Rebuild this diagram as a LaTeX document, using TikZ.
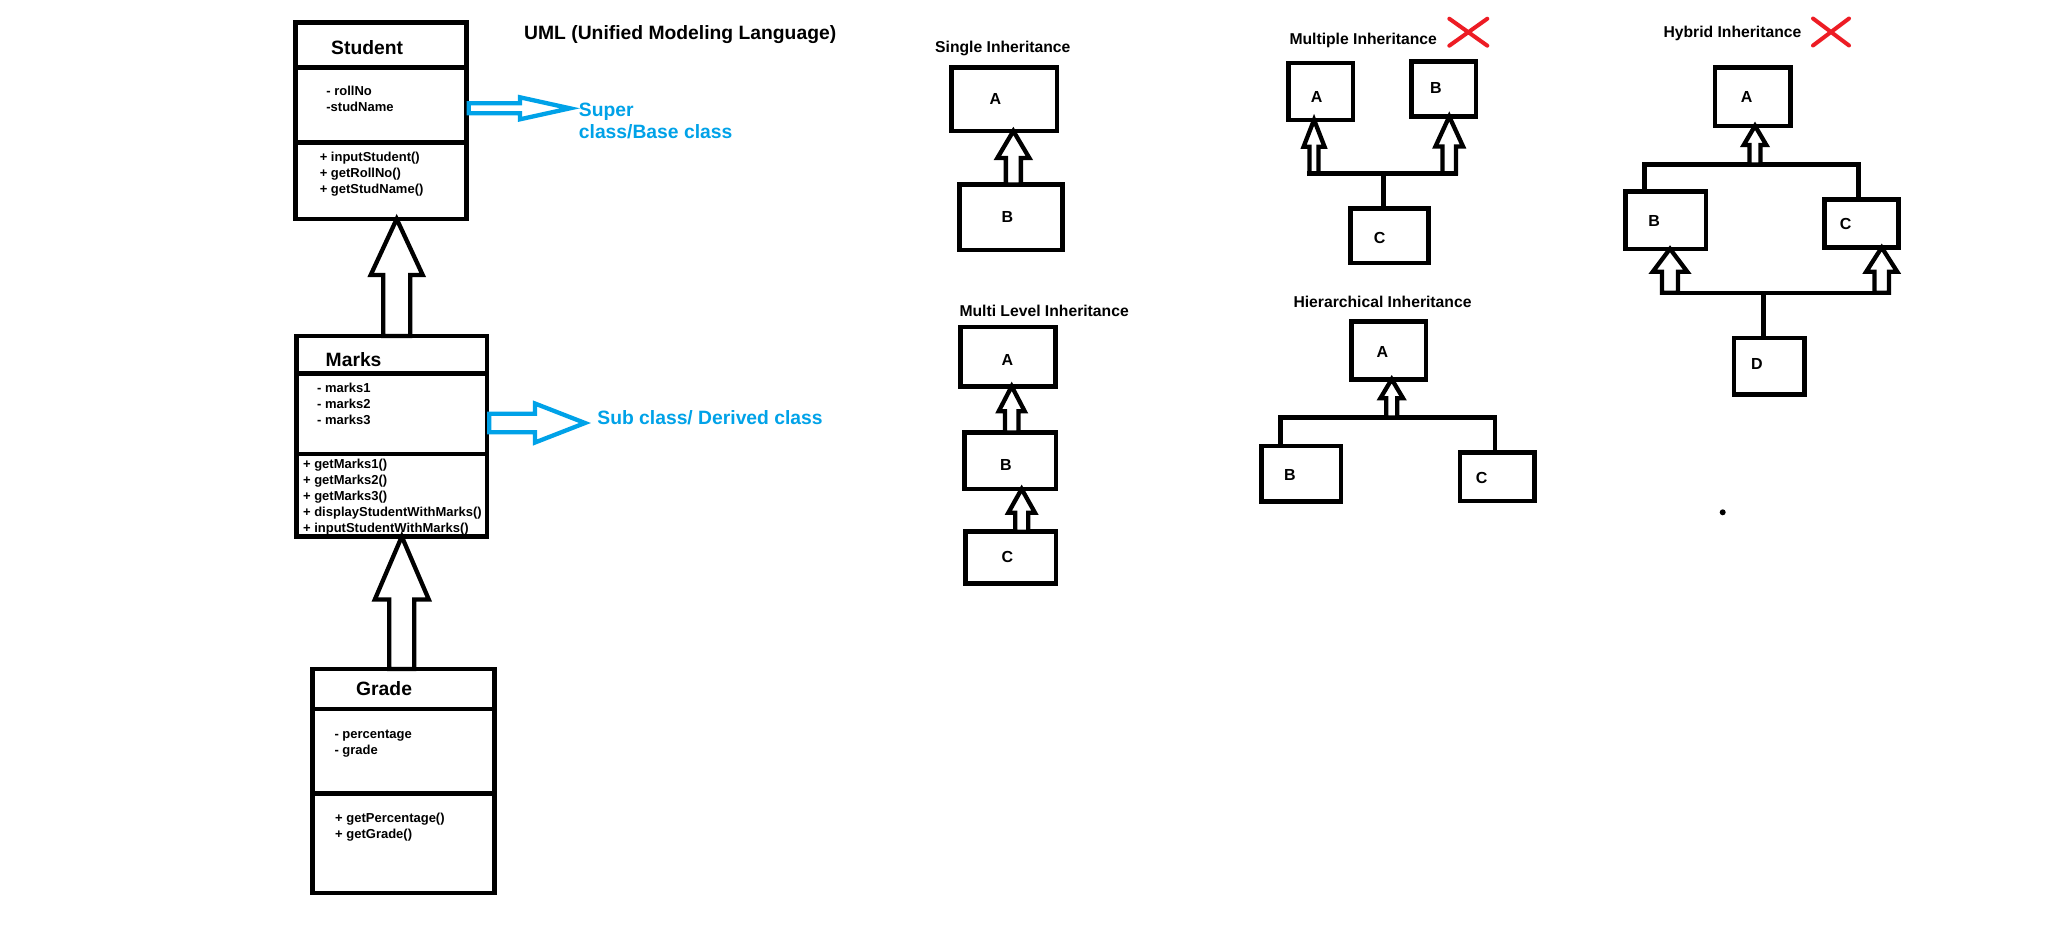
\documentclass[tikz,border=0pt]{standalone}
\usepackage{fontspec}
\setmainfont{Liberation Sans}
\usepackage{xcolor}
\usepackage{tikz}
\usetikzlibrary{positioning,calc,fit,shapes.misc}

\definecolor{paintblue}{RGB}{0,162,232}
\definecolor{paintred}{RGB}{237,28,36}

% hollow arrow up: tip, foot, head length, head half width, shaft half width
\newcommand{\inhup}[5]{%
  \draw[hollow] (#1) -- ++(#4,#3) -- ++({#5-#4},0) -- ($(#1 |- #2)+(#5,0)$)
    -- ($(#1 |- #2)+(-#5,0)$) -- ($(#1)+(-#5,#3)$) -- ++({#5-#4},0) -- cycle;}
% hollow arrow right: start, tip, head length, head half width, shaft half width
\newcommand{\inhright}[5]{%
  \draw[callout] (#2) -- ++(-#3,-#4) -- ++(0,{#4-#5}) -- ($(#1 |- #2)+(0,-#5)$)
    -- ($(#1 |- #2)+(0,#5)$) -- ($(#2)+(-#3,#5)$) -- ++(0,{#4-#5}) -- cycle;}

\begin{document}
\begin{tikzpicture}[
  x=1pt, y=-1pt,
  cls/.style={draw, line width=4.6pt, outer sep=0pt, inner sep=0pt, minimum width=#1},
  box/.style={draw, line width=4.6pt, outer sep=0pt, inner sep=0pt},
  hollow/.style={draw, fill=white, line width=4.3pt, line join=miter},
  callout/.style={draw=paintblue, line width=4.3pt, line join=miter},
  conn/.style={line width=4.6pt},
  ttl/.style={font=\fontsize{19.3}{22.3}\selectfont\bfseries, inner sep=0pt, anchor=west, align=left},
  mem/.style={font=\fontsize{13}{16}\selectfont\bfseries, inner sep=0pt, anchor=west, align=left},
  hdr/.style={font=\fontsize{15.7}{19}\selectfont\bfseries, inner sep=0pt, anchor=west, yshift=-2pt},
  ltr/.style={font=\fontsize{16}{19}\selectfont\bfseries, inner sep=0pt},
  xmark/.style={cross out, draw=paintred, line width=4pt, line cap=round, inner sep=0pt, outer sep=0pt}
]
\path[use as bounding box, fill=white] (0,0) rectangle (2048,930);

% uml classes
\node[cls=171pt, minimum height=45pt, anchor=north west] (stuN) at (295.4,22.5) {};
\node[cls=171pt, minimum height=75pt, below=0pt of stuN] (stuA) {};
\node[cls=171pt, minimum height=76.5pt, below=0pt of stuA] (stuM) {};
\node[ttl] (stuT) at (331,47.7) {Student};
\node[mem] (stuAt) at (326.2,98.7) {- rollNo\\-studName};
\node[mem] (stuMt) at (319.6,174.3) {+ inputStudent()\\+ getRollNo()\\+ getStudName()};

\node[cls=190.4pt, minimum height=37.5pt, anchor=north west] (marN) at (296.6,336) {};
\node[cls=190.4pt, minimum height=80.5pt, below=0pt of marN] (marA) {};
\node[cls=190.4pt, minimum height=82.5pt, below=0pt of marA] (marM) {};
\node[ttl] (marT) at (325.5,359.3) {Marks};
\node[mem] (marAt) at (317,403.4) {- marks1\\- marks2\\- marks3};
\node[mem] (marMt) at (302.9,497) {+ getMarks1()\\+ getMarks2()\\+ getMarks3()\\+ displayStudentWithMarks()\\+ inputStudentWithMarks()};

\node[cls=182pt, minimum height=40pt, anchor=north west] (graN) at (312.5,669) {};
\node[cls=182pt, minimum height=84.5pt, below=0pt of graN] (graA) {};
\node[cls=182pt, minimum height=99.5pt, below=0pt of graA] (graM) {};
\node[ttl] (graT) at (356,688.3) {Grade};
\node[mem] (graAt) at (334.3,743.7) {- percentage\\- grade};
\node[mem] (graMt) at (335,827.2) {+ getPercentage()\\+ getGrade()};

\coordinate (uT1) at ([xshift=15.8pt]stuM.south);
\inhup{uT1}{marN.north}{56}{26}{13.5}
\coordinate (uT2) at ([xshift=10pt]marM.south);
\inhup{uT2}{graN.north}{63}{27}{12.5}

% labels
\node[ttl] (uml) at (524,34.5) {UML (Unified Modeling Language)};
\node[ttl, text=paintblue] (sup) at (578.7,121.2) {Super\\class/Base class};
\node[ttl, text=paintblue] (sub) at (597.2,417.3) {Sub class/ Derived class};
\coordinate (supS) at ([xshift=2.3pt]stuA.east);
\coordinate (supTip) at (570,108.3);
\inhright{supS}{supTip}{50}{11}{5}
\coordinate (subS) at ([xshift=2.3pt]marA.east);
\coordinate (subTip) at (585,423);
\inhright{subS}{subTip}{50}{19.5}{9.3}

% single inheritance
\node[hdr] (sH) at (935,46.7) {Single Inheritance};
\node[box, fit={(951.7,67.5) (1057,131)}] (sA) {};
\node[box, fit={(959.7,184.5) (1062.5,250)}] (sB) {};
\node[ltr] (sAl) at (995.5,99.3) {A};
\node[ltr] (sBl) at (1007.5,216.7) {B};
\coordinate (sT) at ([xshift=9pt]sA.south);
\inhup{sT}{sB.north}{27}{16}{7.5}

% multi level inheritance
\node[hdr] (mH) at (959.3,309.3) {Multi Level Inheritance};
\node[box, fit={(960.5,327) (1055.5,386.3)}] (mA) {};
\node[box, fit={(964.7,432.5) (1056,489)}] (mB) {};
\node[box, fit={(965.5,531.7) (1056,583.3)}] (mC) {};
\node[ltr] (mAl) at (1007.3,360) {A};
\node[ltr] (mBl) at (1006,465) {B};
\node[ltr] (mCl) at (1007.3,556.7) {C};
\coordinate (mT1) at ([xshift=3.7pt]mA.south);
\inhup{mT1}{mB.north}{25}{13}{6.7}
\coordinate (mT2) at ([xshift=11.3pt]mB.south);
\inhup{mT2}{mC.north}{23.7}{13.3}{6.5}

% multiple inheritance
\node[hdr] (muH) at (1289.3,38.3) {Multiple Inheritance};
\node[xmark, minimum width=38pt, minimum height=27pt] (muX) at (1468.3,32.2) {};
\node[box, fit={(1288.3,62.8) (1353,119.8)}] (muA) {};
\node[box, fit={(1411.7,61.7) (1475.8,116.5)}] (muB) {};
\node[box, fit={(1350.5,208.2) (1428.7,262.8)}] (muC) {};
\node[ltr] (muAl) at (1316.7,97.3) {A};
\node[ltr] (muBl) at (1435.8,88.3) {B};
\node[ltr] (muCl) at (1379.7,238.3) {C};
\coordinate (muJ) at (1383.3,173.2);
\coordinate (muTA) at ([xshift=-6.6pt]muA.south);
\coordinate (muTB) at ([xshift=5.5pt]muB.south);
\draw[conn] ($(muTA |- muJ)+(-6.7,0)$) -- ($(muTB |- muJ)+(9,0)$);
\draw[conn] (muC.north -| muJ) -- (muJ);
\inhup{muTA}{muJ}{27}{10.5}{4.5}
\inhup{muTB}{muJ}{30}{13.8}{6.7}

% hierarchical inheritance
\node[hdr] (hH) at (1293.3,300) {Hierarchical Inheritance};
\node[box, fit={(1351.2,321.7) (1425.8,379.2)}] (hA) {};
\node[box, fit={(1261.7,445.8) (1340.8,501.2)}] (hB) {};
\node[box, fit={(1460,452.5) (1534.2,500.8)}] (hC) {};
\node[ltr] (hAl) at (1382.5,351.7) {A};
\node[ltr] (hBl) at (1290,475) {B};
\node[ltr] (hCl) at (1481.7,478.3) {C};
\coordinate (hJ) at (1391.7,417.5);
\coordinate (hT) at ([xshift=3.2pt]hA.south);
\draw[conn] ([xshift=19pt]hB.north west) |- (hJ) -| ([xshift=35pt]hC.north west);
\inhup{hT}{hJ}{19}{11.3}{5.5}

% hybrid inheritance
\node[hdr] (hyH) at (1663.3,31.7) {Hybrid Inheritance};
\node[xmark, minimum width=36pt, minimum height=27pt] (hyX) at (1831,32) {};
\node[box, fit={(1715,67.5) (1790.2,125.8)}] (hyA) {};
\node[box, fit={(1625.5,191.7) (1705.8,248.8)}] (hyB) {};
\node[box, fit={(1824.2,199.2) (1898.2,247.5)}] (hyC) {};
\node[box, fit={(1733.8,337.8) (1804.2,394.2)}] (hyD) {};
\node[ltr] (hyAl) at (1746.7,97.3) {A};
\node[ltr] (hyBl) at (1654.2,220.7) {B};
\node[ltr] (hyCl) at (1845.7,224) {C};
\node[ltr] (hyDl) at (1757,364) {D};
\coordinate (hyJ1) at (1755,164.5);
\coordinate (hyJ2) at (1763.3,292.8);
\coordinate (hyT) at ([xshift=2.4pt]hyA.south);
\coordinate (hyTB) at ([xshift=4.35pt]hyB.south);
\coordinate (hyTC) at ([xshift=20.5pt]hyC.south);
\draw[conn] ([xshift=18.8pt]hyB.north west) |- (hyJ1) -| ([xshift=34.1pt]hyC.north west);
\draw[conn] ($(hyTB |- hyJ2)+(-10,0)$) -- ($(hyTC |- hyJ2)+(9.2,0)$);
\draw[conn] (hyD.north -| hyJ2) -- (hyJ2);
\inhup{hyT}{hyJ1}{19.2}{11.3}{5.5}
\inhup{hyTB}{hyJ2}{23}{17.3}{8}
\inhup{hyTC}{hyJ2}{24.2}{15.5}{7.2}
\node[circle, fill, inner sep=0pt, minimum size=6pt] (dot) at (1722.7,512.3) {};
\end{tikzpicture}
\end{document}
